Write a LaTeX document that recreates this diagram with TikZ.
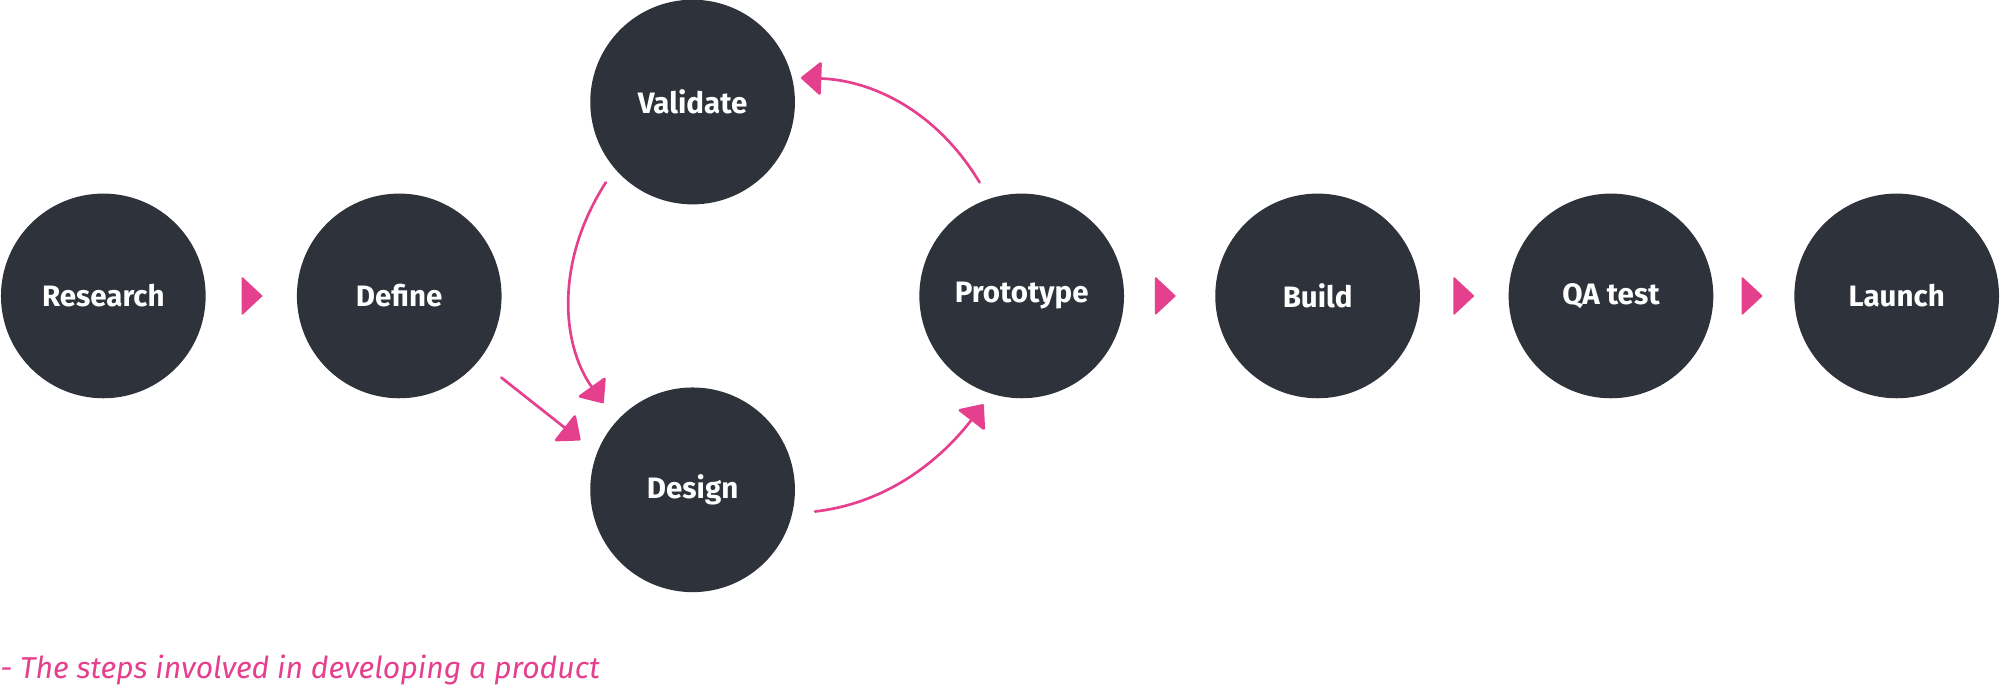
\documentclass[tikz,border=0pt]{standalone}
\usepackage{fontspec}
\setmainfont{Fira Sans}
\usetikzlibrary{arrows.meta}
\definecolor{dark}{HTML}{2E323B}
\definecolor{pink}{HTML}{E5408E}
\begin{document}
\begin{tikzpicture}[x=0.0319cm,y=-0.0319cm,
  step circ/.style={circle,fill=dark,minimum size=5.12cm,inner sep=0pt,text=white,font=\fontsize{21}{24}\selectfont\bfseries},
  conn/.style={draw=pink,line width=1.9pt,line cap=round,-{Triangle[length=15pt,width=25pt,round]},pink},
  head/.style={fill=pink,draw=pink,line join=round,line width=1.2pt}]
\useasboundingbox (0,0) rectangle (1568,541);
\node[step circ] (r) at (81,232) {Research};
\node[step circ] (d) at (313,232) {Define};
\node[step circ] (v) at (543,80) {Validate};
\node[step circ] (g) at (543,384) {Design};
\node[step circ] (p) at (801,232) {Prototype};
\node[step circ] (b) at (1033,232) {Build};
\node[step circ] (q) at (1263,232) {QA test};
\node[step circ] (l) at (1487,232) {Launch};
\foreach \x in {190,906,1140,1366}{
  \filldraw[head] (\x,218) -- (\x,246) -- (\x+15,232) -- cycle;}
\coordinate (a1) at (393,296); \coordinate (a2) at (455,345);
\draw[conn] (a1) -- (a2);
\coordinate (b1) at (475,143); \coordinate (b2) at (473,316);
\draw[conn] (b1) .. controls (435,205) and (440,270) .. (b2);
\coordinate (c1) at (639,401); \coordinate (c2) at (771,317);
\draw[conn] (c1) .. controls (700,394) and (741,356) .. (c2);
\coordinate (e1) at (768,143); \coordinate (e2) at (628,61);
\draw[conn] (e1) .. controls (735,88) and (685,63) .. (e2);
\node[anchor=west,text=pink,font=\fontsize{21.5}{24}\selectfont\itshape,inner sep=0pt] (cap) at (0,525) {- The steps involved in developing a product};
\end{tikzpicture}
\end{document}
